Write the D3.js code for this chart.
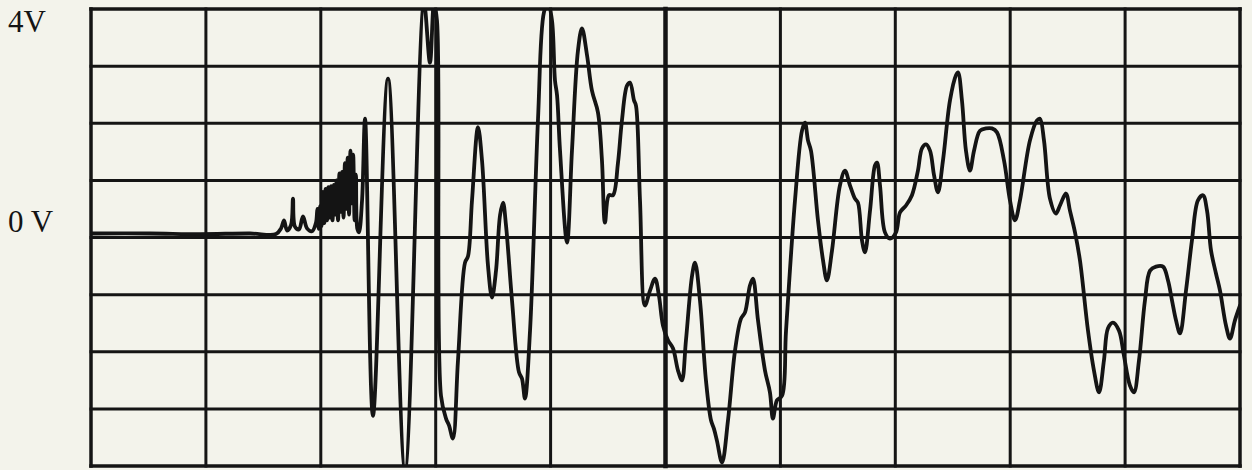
<!DOCTYPE html>
<html>
<head>
<meta charset="utf-8">
<script src="https://cdn.jsdelivr.net/npm/d3@7/dist/d3.min.js"></script>
<style>
  html, body { margin: 0; padding: 0; background: #f3f3eb; }
  svg { display: block; }
</style>
</head>
<body>
<svg id="scope" width="1252" height="470"></svg>
<script>
// Graticule divisions: 10 horizontal (time) x 8 vertical (1 V/div)
const timeDivs = [0, 1, 2, 3, 4, 5, 6, 7, 8, 9, 10];
const voltDivs = [-4, -3, -2, -1, 0, 1, 2, 3, 4];
const voltLabels = [4, 0];
const voltLabelText = ["4V", "0 V"];

// Captured trace: time in divisions, amplitude in volts
const traceTime = [
  0.000, 0.513, 0.949, 1.384, 1.610,
  1.654, 1.680, 1.706, 1.741, 1.758, 1.775, 1.810, 1.845, 1.880, 1.923,
  1.958, 1.970, 1.982, 1.994, 2.006, 2.018, 2.030, 2.042, 2.054, 2.066,
  2.078, 2.090, 2.102, 2.114, 2.126, 2.138, 2.150, 2.162, 2.174, 2.186,
  2.198, 2.210, 2.222, 2.234, 2.246, 2.258, 2.270, 2.282, 2.294, 2.306,
  2.318, 2.332, 2.359, 2.385,
  2.454, 2.585, 2.733, 2.898, 2.950, 2.985, 3.011, 3.046, 3.090, 3.116,
  3.150, 3.194, 3.255, 3.281, 3.316, 3.368, 3.403, 3.455, 3.490, 3.525,
  3.560, 3.586, 3.612, 3.664, 3.725, 3.751, 3.777, 3.821, 3.890, 3.942,
  3.977, 4.012, 4.038, 4.056, 4.082, 4.143, 4.186, 4.238, 4.273, 4.317,
  4.360, 4.412, 4.447, 4.473, 4.508, 4.543, 4.586, 4.621, 4.665, 4.691,
  4.726, 4.743, 4.778, 4.821, 4.865, 4.909, 4.943, 4.978, 5.022, 5.065,
  5.109, 5.143, 5.178, 5.231, 5.257, 5.300, 5.352, 5.396, 5.422, 5.448,
  5.492, 5.544, 5.605, 5.657, 5.692, 5.735, 5.761, 5.805, 5.866, 5.909,
  5.935, 5.970, 6.014, 6.049, 6.127, 6.188, 6.214, 6.240, 6.266, 6.327,
  6.371, 6.405, 6.449, 6.518, 6.562, 6.606, 6.649, 6.675, 6.710, 6.736,
  6.780, 6.823, 6.841, 6.867, 6.910, 6.954, 7.006, 7.041, 7.093, 7.145,
  7.197, 7.232, 7.267, 7.302, 7.337, 7.371, 7.415, 7.476, 7.528, 7.546,
  7.580, 7.615, 7.650, 7.685, 7.737, 7.789, 7.841, 7.885, 7.946, 7.998,
  8.042, 8.085, 8.172, 8.233, 8.259, 8.294, 8.346, 8.398, 8.433, 8.485,
  8.520, 8.564, 8.607, 8.677, 8.729, 8.773, 8.816, 8.851, 8.894, 8.947,
  8.990, 9.042, 9.077, 9.121, 9.173, 9.217, 9.269, 9.330, 9.373, 9.408,
  9.443, 9.478, 9.530, 9.582, 9.634, 9.678, 9.713, 9.748, 9.791, 9.826,
  9.878, 9.913, 9.956, 10.000
];
const traceVolts = [
  0.07, 0.07, 0.06, 0.07, 0.06,
  0.16, 0.30, 0.12, 0.22, 0.68, 0.19, 0.14, 0.37, 0.16, 0.11,
  0.26, 0.50, 0.15, 0.55, 0.20, 0.80, 0.25, 0.85, 0.30, 0.88,
  0.35, 0.90, 0.30, 0.92, 0.40, 1.00, 0.30, 1.12, 0.45, 1.15,
  0.35, 1.30, 0.50, 1.40, 0.40, 1.52, 0.60, 1.45, 0.30, 1.10,
  0.15, 0.09, 0.65, 2.08,
  -3.12, 2.78, -4.05, 4.10, 3.06, 4.10, 3.80, -2.77, -3.17, -3.29,
  -3.52, -2.15, -0.44, -0.33, 0.65, 1.93, 1.35, -0.49, -1.05, -0.58,
  0.39, 0.61, 0.21, -1.10, -2.36, -2.47, -2.82, -1.63, 2.05, 3.94,
  4.10, 3.80, 2.75, 2.49, 1.52, -0.09, 1.52, 3.27, 3.66, 3.19,
  2.57, 2.19, 1.35, 0.26, 0.74, 0.74, 1.30, 2.05, 2.66, 2.71,
  2.40, 2.31, 0.65, -1.19, -0.93, -0.72, -1.02, -1.54, -1.80, -1.94,
  -2.33, -2.50, -1.80, -0.67, -0.44, -1.10, -2.50, -3.20, -3.35, -3.56,
  -3.94, -3.20, -1.98, -1.42, -1.31, -0.84, -0.72, -1.45, -2.33, -2.71,
  -3.17, -2.85, -2.77, -1.63, 0.65, 1.87, 2.01, 1.70, 1.52, 0.30,
  -0.40, -0.75, -0.23, 0.91, 1.17, 0.91, 0.68, 0.61, -0.05, -0.26,
  0.47, 1.26, 1.31, 0.91, 0.09, -0.02, 0.09, 0.44, 0.56, 0.74,
  1.17, 1.56, 1.63, 1.52, 1.09, 0.79, 1.35, 2.40, 2.84, 2.89,
  2.40, 1.52, 1.17, 1.52, 1.87, 1.91, 1.91, 1.84, 1.35, 0.65,
  0.30, 0.65, 1.70, 2.05, 2.08, 1.70, 0.68, 0.42, 0.56, 0.77,
  0.47, 0.09, -0.40, -1.63, -2.33, -2.71, -2.15, -1.59, -1.49, -1.63,
  -2.07, -2.59, -2.71, -2.15, -1.10, -0.58, -0.51, -0.51, -0.75, -1.10,
  -1.45, -1.68, -0.93, -0.05, 0.65, 0.74, 0.47, -0.23, -0.63, -0.93,
  -1.54, -1.77, -1.45, -1.19
];

const svg = d3.select("#scope");
const plot = { left: 91, right: 1240, top: 9, bottom: 466 };

const x = d3.scaleLinear().domain([0, 10]).range([plot.left, plot.right]);
const y = d3.scaleLinear().domain([-4, 4]).range([plot.bottom, plot.top]);

const ink = "#141414";

// Graticule
const grid = svg.append("g").attr("stroke", ink).attr("stroke-linecap", "square");
grid.selectAll("line.v").data(timeDivs).join("line")
  .attr("class", "v")
  .attr("x1", d => x(d)).attr("x2", d => x(d))
  .attr("y1", y(-4)).attr("y2", y(4))
  .attr("stroke-width", d => d === 5 ? 4.5 : (d === 0 || d === 10 ? 3.5 : 3));
grid.selectAll("line.h").data(voltDivs).join("line")
  .attr("class", "h")
  .attr("x1", x(0)).attr("x2", x(10))
  .attr("y1", d => y(d)).attr("y2", d => y(d))
  .attr("stroke-width", d => (d === -4 || d === 4) ? 3.5 : 3);

// Volt labels
svg.append("g").selectAll("text").data(voltLabels).join("text")
  .attr("x", 8)
  .attr("y", d => y(d) + (d === 4 ? 23 : -6))
  .attr("font-family", "'Liberation Serif', 'DejaVu Serif', serif")
  .attr("font-size", 31)
  .attr("fill", ink)
  .text((d, i) => voltLabelText[i]);

// Trace, clipped to the screen area
svg.append("clipPath").attr("id", "screen")
  .append("rect")
  .attr("x", x(0)).attr("y", y(4))
  .attr("width", x(10) - x(0)).attr("height", y(-4) - y(4));

const points = traceTime.map((t, i) => [t, traceVolts[i]]);
const line = d3.line()
  .x(d => x(d[0]))
  .y(d => y(d[1]))
  .curve(d3.curveCatmullRom.alpha(0.5));

svg.append("path")
  .attr("clip-path", "url(#screen)")
  .attr("d", line(points))
  .attr("fill", "none")
  .attr("stroke", ink)
  .attr("stroke-width", 3.8)
  .attr("stroke-linejoin", "round")
  .attr("stroke-linecap", "round");
</script>
</body>
</html>
